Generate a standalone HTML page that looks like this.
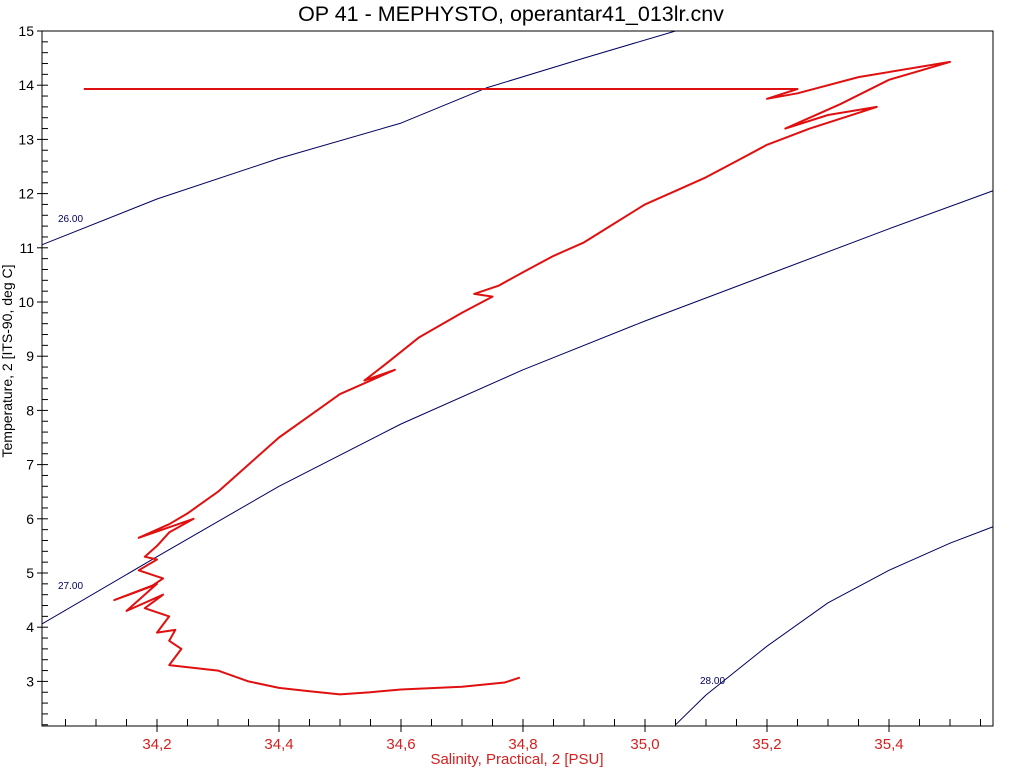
<!DOCTYPE html>
<html><head><meta charset="utf-8"><style>
body{margin:0;background:#fff;}
svg{display:block;font-family:"Liberation Sans",sans-serif;}
</style></head><body>
<svg id="c" width="1024" height="768">
<text x="511" y="21" text-anchor="middle" font-size="21.5" fill="#000">OP 41 - MEPHYSTO, operantar41_013lr.cnv</text>
<text x="517" y="764" text-anchor="middle" font-size="15" fill="#d42020">Salinity, Practical, 2 [PSU]</text>
<text transform="translate(12,361) rotate(-90)" text-anchor="middle" font-size="14" fill="#000">Temperature, 2 [ITS-90, deg C]</text>
<g id="iso"></g>
<g id="prof"></g>
<g id="axes"></g>
</svg>
<script>
const xTicks=[34.2,34.4,34.6,34.8,35.0,35.2,35.4];
const xTickLabels=["34,2","34,4","34,6","34,8","35,0","35,2","35,4"];
const yTicks=[3,4,5,6,7,8,9,10,11,12,13,14,15];
const isoLabels=["26.00","27.00","28.00"];
const iso26S=[34.01,34.2,34.4,34.6,34.74,34.9,35.05];
const iso26T=[11.05,11.9,12.65,13.3,13.95,14.5,15.0];
const iso27S=[34.01,34.2,34.4,34.6,34.8,35.0,35.2,35.4,35.57];
const iso27T=[4.05,5.3,6.6,7.75,8.75,9.65,10.5,11.35,12.05];
const iso28S=[35.05,35.1,35.2,35.3,35.4,35.5,35.57];
const iso28T=[2.2,2.75,3.65,4.45,5.05,5.55,5.85];
const profS=[34.795,34.77,34.7,34.6,34.55,34.5,34.45,34.4,34.35,34.3,34.26,34.22,34.24,34.22,34.23,34.2,34.22,34.18,34.21,34.15,34.2,34.13,34.19,34.21,34.17,34.2,34.18,34.2,34.22,34.26,34.17,34.22,34.25,34.3,34.35,34.4,34.45,34.5,34.59,34.54,34.58,34.63,34.7,34.75,34.72,34.76,34.8,34.85,34.9,34.95,35.0,35.05,35.1,35.15,35.2,35.27,35.38,35.3,35.23,35.32,35.4,35.5,35.35,35.25,35.2,35.25,35.1,34.08];
const profT=[3.07,2.98,2.9,2.85,2.8,2.76,2.82,2.88,3.0,3.2,3.25,3.3,3.6,3.75,3.95,3.9,4.2,4.35,4.6,4.3,4.8,4.5,4.75,4.9,5.05,5.25,5.3,5.5,5.75,6.0,5.65,5.9,6.1,6.5,7.0,7.5,7.9,8.3,8.75,8.55,8.9,9.35,9.8,10.1,10.15,10.3,10.55,10.85,11.1,11.45,11.8,12.05,12.3,12.6,12.9,13.2,13.6,13.45,13.2,13.65,14.1,14.43,14.15,13.85,13.75,13.93,13.93,13.93];
const L=42,R=993,T0=31,B=726;
const S0=34.2,SX=157,SPX=610, Tt=15, TPX=54.2;
function sx(s){return SX+(s-S0)*SPX;}
function ty(t){return T0+(Tt-t)*TPX;}
const NS='http://www.w3.org/2000/svg';
function mk(tag,attrs,parent){const e=document.createElementNS(NS,tag);for(const k in attrs)e.setAttribute(k,attrs[k]);parent.appendChild(e);return e;}
const iso=document.getElementById('iso'),prof=document.getElementById('prof'),axes=document.getElementById('axes');
const defs=mk('defs',{},document.getElementById('c'));
const cp=mk('clipPath',{id:'cl'},defs);mk('rect',{x:L,y:T0,width:R-L,height:B-T0},cp);
iso.setAttribute('clip-path','url(#cl)');prof.setAttribute('clip-path','url(#cl)');
function poly(S,Tv,parent,stroke,w,name){
  const p=mk('polyline',{points:S.map((s,i)=>sx(s).toFixed(1)+','+ty(Tv[i]).toFixed(1)).join(' '),fill:'none',stroke:stroke,'stroke-width':w,'stroke-linejoin':'round'},parent);
  
  
}
poly(iso26S,iso26T,iso,'#000060',1,'isopycnal-26');
poly(iso27S,iso27T,iso,'#000060',1,'isopycnal-27');
poly(iso28S,iso28T,iso,'#000060',1,'isopycnal-28');
const labPos=[[58,222],[58,589],[700,684]];
isoLabels.forEach((t,i)=>{const e=mk('text',{x:labPos[i][0],y:labPos[i][1],'font-size':10,fill:'#000060'},iso);e.textContent=t;

});
poly(profS,profT,prof,'#e01010',2,'profile-line');
const fr=mk('rect',{x:L,y:T0,width:R-L,height:B-T0,fill:'none',stroke:'#000','stroke-width':1},axes);


for(let t=2.2;t<=15.001;t+=0.2){const y=ty(t);const maj=Math.abs(t-Math.round(t))<0.01;
 mk('line',{x1:maj?37:L,x2:L+6,y1:y,y2:y,stroke:'#000','stroke-width':1},axes);}
yTicks.forEach(t=>{const e=mk('text',{x:34,y:ty(t)+5,'text-anchor':'end','font-size':14,fill:'#000'},axes);e.textContent=t;

});
for(let s=34.05;s<=35.56;s+=0.05){const x=sx(s);const maj=Math.abs(s*5-Math.round(s*5))<0.01;
 mk('line',{x1:x,x2:x,y1:B-7,y2:maj?B+6:B,stroke:'#000','stroke-width':1},axes);}
xTicks.forEach((s,i)=>{const e=mk('text',{x:sx(s),y:B+23,'text-anchor':'middle','font-size':15,fill:'#d42020'},axes);e.textContent=xTickLabels[i];

});
</script>
</body></html>
